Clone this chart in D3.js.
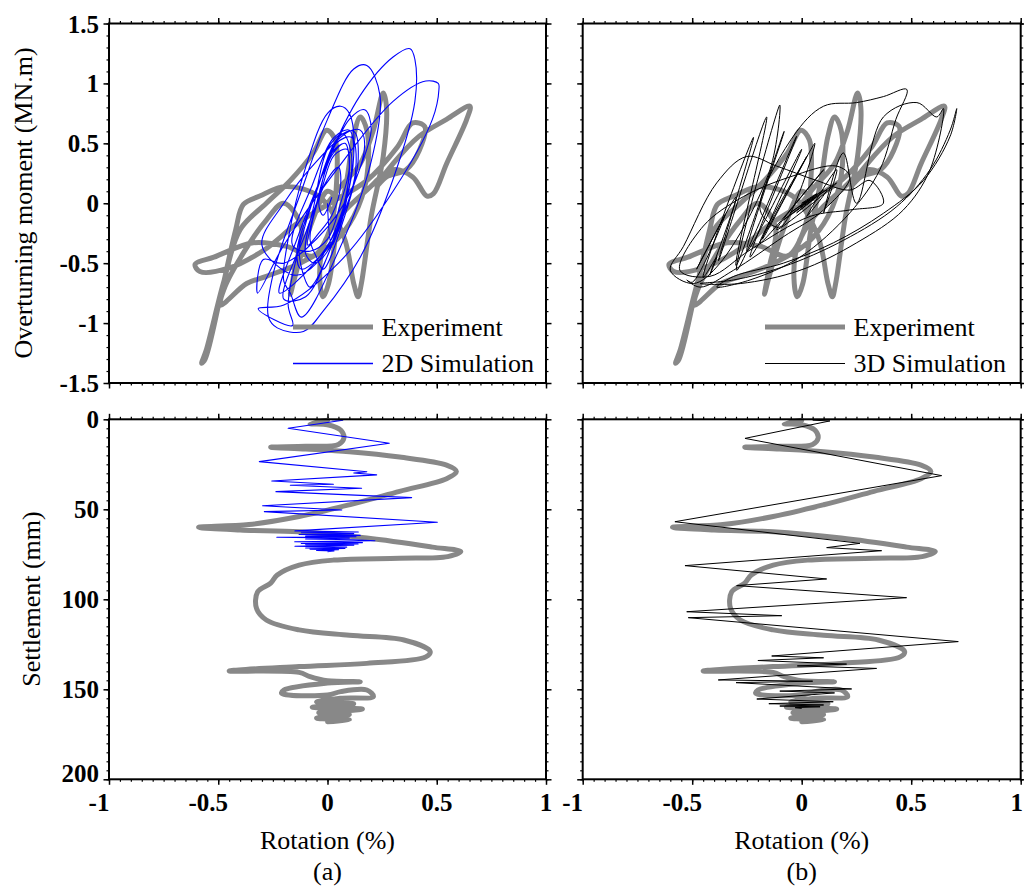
<!DOCTYPE html>
<html><head><meta charset="utf-8">
<script src="https://cdn.jsdelivr.net/npm/d3@7"></script>
<style>
body{margin:0;background:#fff}
text{font-family:"Liberation Serif","Times New Roman",serif;fill:#000}
</style></head>
<body><svg id="c" width="1024" height="886"></svg>
<script>
// ---------- tick values ----------
const rotationTicks = [-1, -0.5, 0, 0.5, 1];
const momentTicks = [-1.5, -1, -0.5, 0, 0.5, 1, 1.5];
const settlementTicks = [0, 50, 100, 150, 200];

// ---------- experiment: overturning moment (MN.m) vs rotation (%) ----------
const expMomentCurve = [
 [0.00,0.00],[0.06,0.14],[0.15,0.33],[0.21,0.61],[0.255,0.92],[0.27,0.80],[0.255,0.39],[0.20,-0.11],
 [0.155,-0.67],[0.14,-0.78],[0.12,-0.67],[0.075,-0.28],[-0.034,0.05],[-0.19,0.14],[-0.31,0.06],
 [-0.385,-0.01],[-0.42,-0.22],[-0.49,-0.78],[-0.56,-1.30],[-0.576,-1.335],[-0.554,-1.22],[-0.477,-0.67],
 [-0.40,-0.22],[-0.28,0.0],[-0.17,0.19],[-0.065,0.42],[-0.004,0.61],[0.035,0.53],[0.042,0.19],
 [0.011,-0.22],[-0.065,-0.44],[-0.187,-0.36],[-0.34,-0.33],[-0.52,-0.45],[-0.606,-0.51],[-0.584,-0.57],
 [-0.45,-0.54],[-0.29,-0.39],[-0.14,-0.17],[0.01,0.0],[0.18,0.19],[0.32,0.47],[0.39,0.67],[0.445,0.64],
 [0.42,0.44],[0.36,0.28],[0.27,0.22],[0.225,0.14],[0.30,0.33],[0.42,0.56],[0.545,0.70],[0.652,0.81],
 [0.637,0.70],[0.545,0.33],[0.485,0.08],[0.455,0.06],[0.39,0.22],[0.30,0.28],[0.18,0.11],[0.057,-0.11],
 [-0.02,-0.36],[-0.034,-0.67],[-0.02,-0.78],[0.005,-0.67],[0.042,-0.22],[0.088,0.19],[0.12,0.56],
 [0.15,0.72],[0.18,0.61],[0.18,0.22],[0.12,-0.11],[0.027,-0.33],[-0.126,-0.50],[-0.28,-0.61],
 [-0.37,-0.67],[-0.49,-0.85],[-0.47,-0.70],[-0.38,-0.40],[-0.28,-0.14],[-0.20,0.0],[-0.12,-0.2],
 [-0.15,-0.55],[-0.17,-0.76],[-0.15,-0.62],[-0.08,-0.2],[0.0,0.1],[0.04,0.05]
];

// ---------- 2D simulation: moment vs rotation ----------
const sim2dMomentCurve = [
 [0,0],
 [0.02,-0.35],[0.08,0.0],[0.1,0.35],[0.08,0.5],[0.02,0.42],[-0.04,0.05],[-0.08,-0.3],[-0.05,-0.45],
 [-0.02,-0.55],[0.08,-0.1],[0.14,0.35],[0.12,0.6],[0.05,0.55],[-0.05,0.1],[-0.13,-0.35],[-0.1,-0.65],
 [-0.08,-0.7],[0.05,-0.2],[0.12,0.4],[0.1,0.75],[0.06,0.81],[0.0,0.75],[-0.1,0.3],[-0.18,-0.3],[-0.2,-0.65],[-0.17,-0.75],
 [-0.12,-0.95],[0.05,-0.4],[0.2,0.35],[0.24,0.9],[0.18,1.15],[0.12,1.12],[0.0,0.7],[-0.12,0.1],[-0.25,-0.6],[-0.27,-0.95],[-0.23,-1.04],
 [-0.11,-1.07],[-0.02,-0.9],[0.15,-0.45],[0.3,0.2],[0.4,0.85],[0.4,1.2],[0.378,1.29],[0.3,1.22],[0.15,0.9],[0.0,0.35],[-0.12,-0.3],[-0.18,-0.85],[-0.16,-1.02],
 [-0.317,-0.88],[-0.2,-0.85],[0.05,-0.5],[0.3,0.1],[0.48,0.7],[0.51,0.95],[0.507,1.0],[0.45,1.02],[0.3,0.85],[0.05,0.3],[-0.2,-0.35],[-0.32,-0.75],
 [-0.294,-0.47],[-0.2,-0.5],[0.0,-0.2],[0.13,0.2],[0.17,0.5],[0.15,0.61],[0.1,0.6],[-0.05,0.35],[-0.2,0.0],[-0.3,-0.35],
 [-0.15,-0.6],[-0.05,-0.5],[0.07,-0.05],[0.12,0.4],[0.1,0.61],[0.03,0.55],[-0.07,0.15],[-0.16,-0.35],
 [-0.08,-0.4],[0.0,-0.3],[0.06,0.0],[0.1,0.3],[0.09,0.45],[0.03,0.4],[-0.03,0.1],[-0.1,-0.25],
 [-0.2,-0.8],[-0.1,-0.78],[0.02,-0.35],[0.12,0.15],[0.2,0.62],[0.17,0.78],[0.1,0.7],[-0.02,0.25],[-0.14,-0.3],[-0.22,-0.75],
 [-0.06,-0.5],[0.06,-0.15],[0.13,0.3],[0.11,0.55],[0.04,0.5],[-0.06,0.05],[-0.14,-0.4],[-0.12,-0.55],
 [0.03,-0.3],[0.09,0.05],[0.11,0.4],[0.07,0.58],[0.0,0.45],[-0.06,0.0],[-0.1,-0.42],[-0.06,-0.5],
 [0.0,-0.4],[0.07,-0.05],[0.1,0.3],[0.08,0.5],[0.02,0.4],[-0.05,0.0],[-0.09,-0.35],
 [-0.04,-0.25],[0.02,-0.1],[0.06,0.15],[0.05,0.3],[0.0,0.2],[-0.04,0.0],[-0.02,-0.1],[0.02,0.05]
];

// ---------- 3D simulation: moment vs rotation ----------
const sim3dMomentCurve = [
 [0,0],[0.07,0.08],[-0.053,-0.08],[0.1,0.11],[-0.084,-0.14],[0.16,0.17],[-0.114,-0.22],[0.1,0.28],
 [-0.19,-0.33],[0.023,0.39],[-0.236,-0.45],[-0.023,0.56],[-0.297,-0.56],[-0.1,0.82],[-0.145,0.28],
 [-0.373,-0.50],[-0.495,-0.67],[-0.6,-0.56],[-0.54,-0.36],[-0.388,0.17],[-0.251,0.39],[-0.114,0.31],
 [0.068,0.19],[0.22,0.11],[0.312,0.19],[0.373,0.0],[0.22,-0.056],[0.038,-0.11],[-0.236,-0.39],
 [-0.419,-0.61],[-0.556,-0.56],[-0.449,-0.19],[-0.266,0.056],[-0.053,0.22],[0.16,0.31],[0.22,0.22],
 [0.1,-0.056],[-0.084,-0.28],[-0.312,-0.56],[-0.464,-0.70],[-0.525,-0.64],
 [-0.5,-0.66],[-0.35,-0.1],[-0.48,-0.55],[-0.3,0.05],[-0.42,-0.6],[-0.388,-0.45],
 [-0.45,-0.62],[-0.22,0.55],[-0.38,-0.48],[-0.16,0.72],[-0.3,-0.52],[-0.08,0.6],[-0.25,-0.4],
 [0.0,0.45],[-0.18,-0.3],[0.06,0.5],[-0.1,-0.2],
 [-0.19,-0.056],[-0.038,0.56],[0.1,0.81],[0.251,0.84],[0.373,0.89],[0.48,0.95],[0.43,0.70],
 [0.357,0.28],[0.22,-0.08],[-0.008,-0.45],[-0.236,-0.64],[-0.388,-0.70],[-0.31,-0.61],[-0.084,-0.50],
 [0.145,-0.33],[0.373,-0.084],[0.556,0.19],[0.678,0.56],[0.708,0.79],[0.678,0.61],[0.586,0.28],
 [0.434,-0.028],[0.19,-0.31],[-0.084,-0.53],[-0.31,-0.64],[-0.464,-0.67],[-0.28,-0.67],[-0.008,-0.56],
 [0.251,-0.33],[0.464,-0.056],[0.586,0.28],[0.647,0.79],[0.617,0.72],[0.526,0.84],[0.373,0.72],
 [0.25,0.0],[0.19,0.42],[0.1,-0.08],[0.16,0.28],[0.023,-0.11],[0.114,0.11],[-0.023,-0.08],
 [0.068,0.056],[-0.008,-0.028],[0.038,0.028],[0,0]
];

// ---------- experiment: settlement (mm) vs rotation (%) ----------
const expSettlementCurve = [
 [0.0,0.5],[-0.08,2.5],[0.0,3],[0.06,6],[0.075,10.5],[0.05,14],[-0.1,15],[-0.26,15.5],[-0.1,16.5],
 [0.1,18],[0.33,21],[0.545,25.5],[0.59,29],[0.545,33],[0.33,40],[0.1,47.5],[-0.13,54],[-0.36,58.5],
 [-0.59,60],[-0.4,61.5],[-0.13,62.5],[0.18,66],[0.48,71],[0.61,73.5],[0.55,76.3],[0.33,77.2],
 [0.03,78.2],[-0.13,81],[-0.23,86.5],[-0.26,91],[-0.32,96],[-0.325,105],[-0.28,111.5],[-0.13,117],
 [0.1,120],[0.35,122.6],[0.47,129],[0.45,132],[0.18,135.6],[-0.13,137.4],[-0.45,139.8],[-0.13,140.6],
 [-0.08,143],[0.0,145.3],[0.15,145.8],[0.0,146.5],[-0.2,150.4],[-0.21,152.2],[0.0,153.2],[0.06,151.3],
 [0.18,150.4],[0.21,154],[0.06,155],[-0.05,157],[0.12,158],[-0.07,160],[0.16,161],[-0.04,163],
 [0.1,164],[-0.05,166],[0.1,167],[0.0,168]
];

// ---------- 2D simulation: settlement vs rotation ----------
const sim2dSettlementCurve = [
 [0.02,0.2],[0.07,0.5],[-0.18,5],[0.283,13.3],[-0.312,23.5],[0.18,29.1],[0.12,29.8],[0.225,30.9],
 [-0.255,34.3],[0.027,36.1],[-0.17,36.6],[0.156,38.3],[-0.236,40.2],[0.385,43.5],[-0.297,48],
 [0.065,50.4],[-0.289,51.3],[0.503,57.2],[-0.149,62],[0.141,62.6],[-0.12,63],[0.12,63.5],[-0.13,64],
 [0.15,64.5],[-0.1,64.9],[0.13,65.2],[-0.232,65.5],[0.1,66],[-0.1,66.5],[0.12,66.9],[0.217,67.5],
 [-0.15,68],[0.16,68.5],[-0.12,69],[0.14,69.3],[-0.1,69.6],[0.12,69.9],[-0.149,70.5],[0.088,71],
 [-0.1,71.5],[0.08,71.8],[-0.08,72.1],[0.05,72.4],[-0.05,72.8],[0.03,73.2],[0.0,73.5]
];

// ---------- 3D simulation: settlement vs rotation ----------
const sim3dSettlementCurve = [
 [0.05,0.5],[0.129,0.9],[-0.259,10.6],[0.639,31.3],[-0.579,56.9],[0.266,68.9],[0.114,71.3],[0.365,73],
 [-0.533,81.3],[0.114,88.7],[-0.297,92.4],[0.479,99.1],[-0.525,106.9],[-0.091,109.1],[-0.518,110.2],
 [0.715,123.5],[-0.137,131.5],[0.1,132.5],[-0.2,134],[0.205,136],[-0.02,137],[0.342,138.4],
 [-0.381,144.8],[0.05,145.5],[-0.3,146.3],[0.228,149.8],[-0.1,151],[0.15,152],[-0.205,155.4],
 [0.144,156.9],[-0.15,158],[0.1,158.7],[-0.1,159.3],[0.084,159.7],[-0.03,160.2],[0.0,160.6]
];

// ---------- layout ----------
const svg = d3.select("#c");
const cols = [{x0:109, x1:546}, {x0:582.7, x1:1020.7}];
const rows = [{y0:23.5, y1:383}, {y0:419.3, y1:779.3}];
const GRAY = "#888888", FONT = 26, TICKFONT = 25;

function minorRange(a, b, step){ const n = Math.round((b-a)/step); return d3.range(n+1).map(i => +(a + i*step).toFixed(4)); }

function drawPanel(col, row, opts){
  const c = cols[col], r = rows[row];
  const x = d3.scaleLinear().domain([-1,1]).range([c.x0, c.x1]);
  const y = opts.yScale(r);
  const g = svg.append("g");
  const xMinor = minorRange(-1, 1, 0.05);
  const yMinor = minorRange(opts.yDom[0], opts.yDom[1], opts.yMinorStep);
  const sides = [
    {ax: d3.axisBottom(x), tr: `translate(0,${r.y1})`, maj: rotationTicks, min: xMinor},
    {ax: d3.axisTop(x), tr: `translate(0,${r.y0})`, maj: rotationTicks, min: xMinor},
    {ax: d3.axisLeft(y), tr: `translate(${c.x0},0)`, maj: opts.yTicks, min: yMinor},
    {ax: d3.axisRight(y), tr: `translate(${c.x1},0)`, maj: opts.yTicks, min: yMinor}
  ];
  sides.forEach(s => {
    const gm = g.append("g").attr("transform", s.tr)
      .call(s.ax.tickValues(s.min).tickSize(2.5).tickSizeOuter(0).tickFormat(""));
    gm.select(".domain").remove();
    gm.selectAll("line").attr("stroke","#000").attr("stroke-width",1.2);
    const gM = g.append("g").attr("transform", s.tr)
      .call(s.ax.tickValues(s.maj).tickSize(5.5).tickSizeOuter(0).tickFormat(""));
    gM.select(".domain").remove();
    gM.selectAll("line").attr("stroke","#000").attr("stroke-width",1.5);
  });
  // curves
  const line = (curve) => d3.line().x(d => x(d[0])).y(d => y(d[1])).curve(curve);
  g.append("path").datum(opts.exp)
    .attr("d", line(d3.curveCatmullRom.alpha(0.5)))
    .attr("fill","none").attr("stroke",GRAY).attr("stroke-width",5)
    .attr("stroke-linejoin","round").attr("stroke-linecap","round");
  g.append("path").datum(opts.sim)
    .attr("d", line(opts.simCurve))
    .attr("fill","none").attr("stroke",opts.simColor).attr("stroke-width",opts.simWidth)
    .attr("stroke-linejoin","round");
  // frame
  g.append("rect").attr("x",c.x0).attr("y",r.y0).attr("width",c.x1-c.x0).attr("height",r.y1-r.y0)
    .attr("fill","none").attr("stroke","#000").attr("stroke-width",2);
  // labels
  if (col === 0){
    const lastY = opts.yTicks[opts.yTicks.length-1];
    g.selectAll(null).data(opts.yTicks).enter().append("text")
      .attr("x", c.x0 - 10)
      .attr("y", d => y(d) + (row === 1 && d === lastY ? -6 : 0)).attr("dy","0.36em")
      .attr("text-anchor","end").attr("font-size",TICKFONT).attr("font-weight","bold")
      .text(d => String(d));
  }
  if (row === 1){
    g.selectAll(null).data(rotationTicks).enter().append("text")
      .attr("x", d => x(d) + (d < 0 ? -10 : (col === 1 && d === 1 ? -4 : 0))).attr("y", 811)
      .attr("text-anchor","middle").attr("font-size",TICKFONT).attr("font-weight","bold")
      .text(d => String(d));
    g.append("text").attr("x",(c.x0+c.x1)/2).attr("y",849).attr("text-anchor","middle")
      .attr("font-size",FONT).text("Rotation (%)");
    g.append("text").attr("x",(c.x0+c.x1)/2).attr("y",880).attr("text-anchor","middle")
      .attr("font-size",FONT).text(col === 0 ? "(a)" : "(b)");
  }
  if (opts.legend){
    const lx0 = c.x0 + (col === 0 ? 184 : 182.3), lx1 = lx0 + 80;
    const items = [{y:327, color:GRAY, w:5, label:"Experiment"},
                   {y:363.5, color:opts.simColor, w:opts.simWidth+0.2, label:opts.legend}];
    items.forEach(it => {
      g.append("line").attr("x1",lx0).attr("x2",lx1).attr("y1",it.y).attr("y2",it.y)
        .attr("stroke",it.color).attr("stroke-width",it.w);
      g.append("text").attr("x",lx1+8.5).attr("y",it.y+8.5).attr("font-size",FONT).text(it.label);
    });
  }
  return g;
}

const momentOpts = {
  yDom:[-1.5,1.5], yTicks:momentTicks, yMinorStep:0.1,
  yScale: r => d3.scaleLinear().domain([-1.5,1.5]).range([r.y1, r.y0]),
  exp: expMomentCurve, simCurve: d3.curveCatmullRom.alpha(0.5)
};
const settleOpts = {
  yDom:[0,200], yTicks:settlementTicks, yMinorStep:5,
  yScale: r => d3.scaleLinear().domain([0,200]).range([r.y0, r.y1]),
  exp: expSettlementCurve, simCurve: d3.curveLinear
};

drawPanel(0,0,Object.assign({}, momentOpts, {sim:sim2dMomentCurve, simColor:"#0000ff", simWidth:1.1, legend:"2D Simulation"}));
drawPanel(1,0,Object.assign({}, momentOpts, {sim:sim3dMomentCurve, simColor:"#000000", simWidth:1.0, legend:"3D Simulation"}));
drawPanel(0,1,Object.assign({}, settleOpts, {sim:sim2dSettlementCurve, simColor:"#0000ff", simWidth:1.1}));
drawPanel(1,1,Object.assign({}, settleOpts, {sim:sim3dSettlementCurve, simColor:"#000000", simWidth:1.0}));

// y-axis titles
svg.append("text").attr("transform","translate(31.5,203) rotate(-90)").attr("text-anchor","middle")
  .attr("font-size",FONT).text("Overturning moment (MN.m)");
svg.append("text").attr("transform","translate(40,599) rotate(-90)").attr("text-anchor","middle")
  .attr("font-size",FONT).text("Settlement (mm)");
</script></body></html>
